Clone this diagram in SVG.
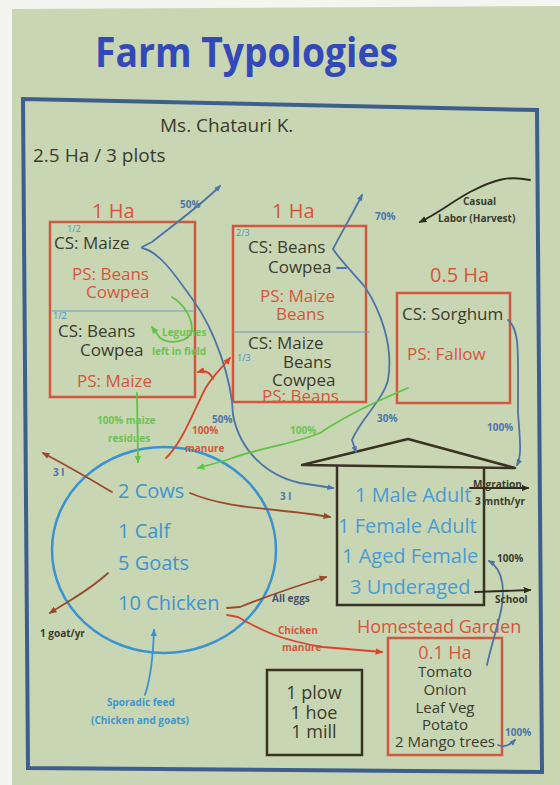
<svg xmlns="http://www.w3.org/2000/svg" width="560" height="785" viewBox="0 0 560 785">
<defs>
<style>
text{font-family:"Open Sans","Liberation Sans",sans-serif}
.dk{fill:#3b3b2e}
.rd{fill:#d4563c}
.bl{fill:#3f95cc}
.hb{fill:#4a9bd2}
.gr{fill:#6cc351}
.sm{font-size:10px;font-weight:bold}
.pt{font-size:17px}
.box{fill:none;stroke:#d4563c;stroke-width:2.5}
.dbox{fill:none;stroke:#3a3222;stroke-width:2.5}
.c{fill:none;stroke-width:1.8;stroke-linecap:round;stroke-linejoin:round}
.sb{stroke:#4d74a8}
.br{stroke:#9a4a2c}
.re{stroke:#d8452e}
.gn{stroke:#62c346}
.bk{stroke:#2e2a1e}
.lb{stroke:#3a92d0}
</style>
<marker id="aSb" viewBox="0 0 10 10" refX="8" refY="5" markerWidth="7" markerHeight="7" markerUnits="userSpaceOnUse" orient="auto"><path d="M0,1 L10,5 L0,9 z" fill="#4d74a8"/></marker>
<marker id="aBr" viewBox="0 0 10 10" refX="8" refY="5" markerWidth="8" markerHeight="8" markerUnits="userSpaceOnUse" orient="auto"><path d="M0,1 L10,5 L0,9 z" fill="#9a4a2c"/></marker>
<marker id="aRe" viewBox="0 0 10 10" refX="8" refY="5" markerWidth="8" markerHeight="8" markerUnits="userSpaceOnUse" orient="auto"><path d="M0,1 L10,5 L0,9 z" fill="#d8452e"/></marker>
<marker id="aGn" viewBox="0 0 10 10" refX="8" refY="5" markerWidth="8" markerHeight="8" markerUnits="userSpaceOnUse" orient="auto"><path d="M0,1 L10,5 L0,9 z" fill="#62c346"/></marker>
<marker id="aBk" viewBox="0 0 10 10" refX="8" refY="5" markerWidth="8" markerHeight="8" markerUnits="userSpaceOnUse" orient="auto"><path d="M0,1 L10,5 L0,9 z" fill="#2e2a1e"/></marker>
<marker id="aLb" viewBox="0 0 10 10" refX="8" refY="5" markerWidth="8" markerHeight="8" markerUnits="userSpaceOnUse" orient="auto"><path d="M0,1 L10,5 L0,9 z" fill="#3a92d0"/></marker>
</defs>

<rect width="560" height="785" fill="#f4f5f0"/>
<polygon points="12,9 560,6 560,785 12,785" fill="#c9d6b3"/>
<polygon points="23,99 537,110 542,772 28,768" fill="none" stroke="#3d5f8e" stroke-width="4"/>

<text x="95" y="67" font-size="42" font-weight="bold" fill="#3349b8" textLength="303" lengthAdjust="spacingAndGlyphs">Farm Typologies</text>

<g id="header">
<text class="dk" x="160" y="132" font-size="19">Ms. Chatauri K.</text>
<text class="dk" x="33" y="162" font-size="19">2.5 Ha / 3 plots</text>
</g>

<g id="plot1">
<text class="rd" x="92" y="218" font-size="20">1 Ha</text>
<rect class="box" x="50" y="222" width="145" height="175"/>
<line x1="52" y1="311" x2="195" y2="311" stroke="#6f98c4" stroke-width="1.2"/>
<text class="bl" x="67" y="232" font-size="9">1/2</text>
<text class="dk pt" x="54" y="249">CS: Maize</text>
<text class="rd pt" x="72" y="280">PS: Beans</text>
<text class="rd pt" x="86" y="298">Cowpea</text>
<text class="bl" x="53" y="319" font-size="9">1/2</text>
<text class="dk pt" x="58" y="337">CS: Beans</text>
<text class="dk pt" x="80" y="356">Cowpea</text>
<text class="rd pt" x="77" y="387">PS: Maize</text>
</g>

<g id="plot2">
<text class="rd" x="272" y="218" font-size="20">1 Ha</text>
<rect class="box" x="233" y="226" width="133" height="176"/>
<line x1="233" y1="332" x2="370" y2="332" stroke="#6f98c4" stroke-width="1.2"/>
<text class="bl" x="236" y="236" font-size="9">2/3</text>
<text class="dk pt" x="248" y="253">CS: Beans</text>
<text class="dk pt" x="268" y="273">Cowpea</text>
<text class="rd pt" x="260" y="302">PS: Maize</text>
<text class="rd pt" x="276" y="320">Beans</text>
<text class="dk pt" x="248" y="349">CS: Maize</text>
<text class="bl" x="237" y="361" font-size="9">1/3</text>
<text class="dk pt" x="283" y="368">Beans</text>
<text class="dk pt" x="272" y="386">Cowpea</text>
<text class="rd pt" x="262" y="402">PS: Beans</text>
</g>

<g id="plot3">
<text class="rd" x="430" y="282" font-size="20">0.5 Ha</text>
<rect class="box" x="397" y="293" width="113" height="110"/>
<text class="dk" x="402" y="320" font-size="17">CS: Sorghum</text>
<text class="rd pt" x="407" y="360">PS: Fallow</text>
</g>

<g id="livestock">
<ellipse cx="164" cy="550" rx="112" ry="103" fill="none" stroke="#3a92d0" stroke-width="2.5"/>
<text class="bl" x="118" y="498" font-size="20">2 Cows</text>
<text class="bl" x="118" y="538" font-size="20">1 Calf</text>
<text class="bl" x="118" y="570" font-size="20">5 Goats</text>
<text class="bl" x="118" y="610" font-size="20">10 Chicken</text>
</g>

<g id="household">
<polygon points="302,465 408,439 515,468" fill="none" stroke="#3a3222" stroke-width="2.5" stroke-linejoin="round"/>
<polyline points="337,465 337,605 484,605 484,467" fill="none" stroke="#3a3222" stroke-width="2.5"/>
<text class="hb" x="355" y="502" font-size="20">1 Male Adult</text>
<text class="hb" x="338" y="533" font-size="20">1 Female Adult</text>
<text class="hb" x="342" y="563" font-size="20">1 Aged Female</text>
<text class="hb" x="350" y="594" font-size="20">3 Underaged</text>
</g>

<g id="garden">
<text class="rd" x="357" y="633" font-size="18">Homestead Garden</text>
<rect class="box" x="388" y="638" width="114" height="117"/>
<g text-anchor="middle">
<text class="rd" x="445" y="659" font-size="18">0.1 Ha</text>
<text class="dk" x="445" y="677" font-size="15">Tomato</text>
<text class="dk" x="445" y="695" font-size="15">Onion</text>
<text class="dk" x="445" y="713" font-size="15">Leaf Veg</text>
<text class="dk" x="445" y="730" font-size="15">Potato</text>
<text class="dk" x="445" y="747" font-size="15">2 Mango trees</text>
</g>
</g>

<g id="tools">
<rect class="dbox" x="267" y="670" width="95" height="85"/>
<g text-anchor="middle" class="dk" font-size="18">
<text x="314" y="699">1 plow</text>
<text x="314" y="719">1 hoe</text>
<text x="314" y="738">1 mill</text>
</g>
</g>

<g id="connectors">
<path class="c sb" d="M142,247 L152,242 C172,226 200,206 220,186" marker-end="url(#aSb)"/>
<path class="c sb" d="M142,248 C160,252 175,275 193,300 C215,330 232,380 233,415 C240,450 265,475 300,483 L333,488" marker-end="url(#aSb)"/>
<path class="c sb" d="M333,249 C343,230 352,215 362,195" marker-end="url(#aSb)"/>
<path class="c sb" d="M333,249 C340,260 355,275 365,287 C380,310 394,345 388,380 C383,400 360,420 352,440 L356,452" marker-end="url(#aSb)"/>
<path class="c sb" d="M337,268 L346,268"/>
<path class="c sb" d="M508,320 C520,330 518,350 518,413 C520,440 522,455 517,465" marker-end="url(#aSb)"/>
<path class="c sb" d="M487,665 C490,650 495,635 500,615 C505,595 505,570 489,561" marker-end="url(#aSb)"/>
<path class="c sb" d="M498,745 C505,748 510,745 515,740" marker-end="url(#aSb)"/>
<path class="c lb" d="M145,695 C150,680 153,660 154,630" marker-end="url(#aLb)"/>
<path class="c br" d="M112,492 C95,482 75,470 43,453" marker-end="url(#aBr)"/>
<path class="c br" d="M190,493 C230,510 280,508 330,517" marker-end="url(#aBr)"/>
<path class="c br" d="M108,573 C90,590 70,600 50,613" marker-end="url(#aBr)"/>
<path class="c br" d="M227,608 L240,607 C270,595 300,585 326,577" marker-end="url(#aBr)"/>
<path class="c re" d="M227,615 L238,617 C260,630 280,640 323,647 L382,652" marker-end="url(#aRe)"/>
<path class="c re" d="M166,458 C180,445 190,420 203,393 C210,378 220,370 230,358" marker-end="url(#aRe)"/>
<path class="c re" d="M213,379 C210,372 205,370 198,372" marker-end="url(#aRe)"/>
<path class="c gn" d="M137,393 L138,462" marker-end="url(#aGn)"/>
<path class="c gn" d="M408,388 C380,400 350,413 320,433 C290,445 250,450 227,460 L198,468" marker-end="url(#aGn)"/>
<path class="c gn" d="M172,297 C185,305 192,318 192,330 C190,342 170,345 160,338 L152,327" marker-end="url(#aGn)"/>
<path class="c bk" d="M530,180 C510,176 497,178 470,192 C450,203 440,212 420,222" marker-end="url(#aBk)"/>
<path class="c bk" d="M470,488 L528,488" marker-end="url(#aBk)"/>
<path class="c bk" d="M475,592 L530,590" marker-end="url(#aBk)"/>
</g>

<g id="labels">
<text class="sm" x="180" y="208" fill="#4d74a8">50%</text>
<text class="sm" x="375" y="220" fill="#4d74a8">70%</text>
<text class="sm" x="377" y="422" fill="#4d74a8">30%</text>
<text class="sm" x="487" y="431" fill="#4d74a8">100%</text>
<text class="sm" x="212" y="423" fill="#4d74a8">50%</text>
<text class="sm dk" x="463" y="205">Casual</text>
<text class="sm dk" x="438" y="222">Labor (Harvest)</text>
<text class="sm gr" x="162" y="336">Legumes</text>
<text class="sm gr" x="152" y="355">left in field</text>
<text class="sm gr" x="97" y="424">100% maize</text>
<text class="sm gr" x="108" y="442">residues</text>
<text class="sm rd" x="192" y="434">100%</text>
<text class="sm rd" x="185" y="452">manure</text>
<text class="sm gr" x="290" y="434">100%</text>
<text class="sm" x="53" y="476" fill="#4d74a8">3 l</text>
<text class="sm" x="280" y="500" fill="#4d74a8">3 l</text>
<text class="sm dk" x="40" y="637">1 goat/yr</text>
<text class="sm" x="272" y="602" fill="#4a5072">All eggs</text>
<text class="sm rd" x="278" y="634">Chicken</text>
<text class="sm rd" x="282" y="651">manure</text>
<text class="sm dk" x="473" y="488">Migration</text>
<text class="sm dk" x="475" y="505">3 mnth/yr</text>
<text class="sm dk" x="497" y="562">100%</text>
<text class="sm dk" x="495" y="603">School</text>
<text class="sm" x="505" y="736" fill="#4d74a8">100%</text>
<text class="sm bl" x="107" y="706">Sporadic feed</text>
<text class="sm bl" x="91" y="724">(Chicken and goats)</text>
</g>
</svg>
